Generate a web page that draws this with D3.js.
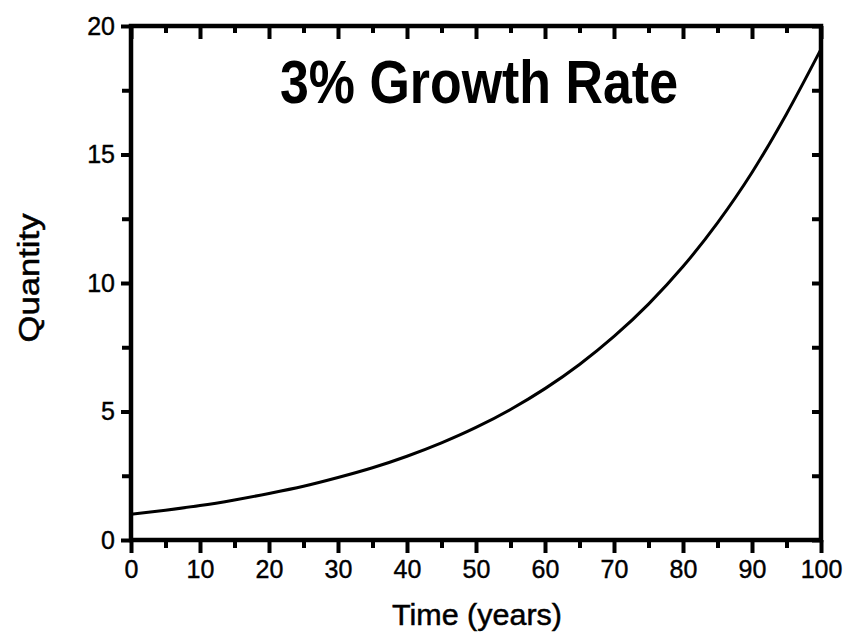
<!DOCTYPE html>
<html>
<head>
<meta charset="utf-8">
<script src="https://cdn.jsdelivr.net/npm/d3@7"></script>
<style>
  html, body { margin: 0; padding: 0; background: #fff; }
  svg { display: block; }
  text { font-family: "Liberation Sans", Arial, Helvetica, sans-serif; fill: #000; }
</style>
</head>
<body>
<svg id="chart" width="850" height="641"></svg>
<script>
// ---- data ----
const years = [0, 5, 10, 15, 20, 25, 30, 35, 40, 45, 50, 55, 60, 65, 70, 75, 80, 85, 90, 95, 100];
const quantity = [1.00, 1.16, 1.34, 1.56, 1.81, 2.09, 2.43, 2.81, 3.26, 3.78, 4.38, 5.08, 5.89, 6.83, 7.92, 9.18, 10.64, 12.34, 14.30, 16.58, 19.1];
const xMajorTicks = [0, 10, 20, 30, 40, 50, 60, 70, 80, 90, 100];
const xMinorTicks = [5, 15, 25, 35, 45, 55, 65, 75, 85, 95];
const yMajorTicks = [0, 5, 10, 15, 20];
const yMinorTicks = [2.5, 7.5, 12.5, 17.5];
const titleText = "3% Growth Rate";
const xLabel = "Time (years)";
const yLabel = "Quantity";

(function () {
  // ---- layout ----
  const pL = 131, pR = 821, pT = 26, pB = 540;
  const svg = d3.select("#chart");

  const x = d3.scaleLinear().domain([0, 100]).range([pL, pR]);
  const y = d3.scaleLinear().domain([0, 20]).range([pB, pT]);

  function styleAxis(g) {
    g.select(".domain").remove();
    g.selectAll(".tick line").attr("stroke", "#000").attr("stroke-width", 4);
    g.selectAll(".tick text")
      .style("font-family", '"Liberation Sans", Arial, sans-serif')
      .style("font-size", "25px")
      .attr("fill", "#000")
      .attr("stroke", "#000").attr("stroke-width", 0.4);
  }

  // bottom axis (outward ticks with labels)
  svg.append("g").attr("transform", `translate(0,${pB})`)
    .call(d3.axisBottom(x).tickValues(xMinorTicks).tickSize(8).tickFormat(""))
    .call(styleAxis);
  svg.append("g").attr("transform", `translate(0,${pB})`)
    .call(d3.axisBottom(x).tickValues(xMajorTicks).tickSize(13).tickPadding(7).tickFormat(d3.format("d")))
    .call(styleAxis);

  // top frame (inward ticks)
  svg.append("g").attr("transform", `translate(0,${pT})`)
    .call(d3.axisBottom(x).tickValues(xMinorTicks).tickSize(7).tickFormat(""))
    .call(styleAxis);
  svg.append("g").attr("transform", `translate(0,${pT})`)
    .call(d3.axisBottom(x).tickValues(xMajorTicks).tickSize(13).tickFormat(""))
    .call(styleAxis);

  // left axis (outward ticks with labels)
  svg.append("g").attr("transform", `translate(${pL},0)`)
    .call(d3.axisLeft(y).tickValues(yMinorTicks).tickSize(9).tickFormat(""))
    .call(styleAxis);
  svg.append("g").attr("transform", `translate(${pL},0)`)
    .call(d3.axisLeft(y).tickValues(yMajorTicks).tickSize(10).tickPadding(6).tickFormat(d3.format("d")))
    .call(styleAxis);

  // right frame (inward ticks)
  svg.append("g").attr("transform", `translate(${pR},0)`)
    .call(d3.axisLeft(y).tickValues(yMinorTicks.concat(yMajorTicks)).tickSize(9).tickFormat(""))
    .call(styleAxis);

  // frame
  svg.append("rect")
    .attr("x", pL).attr("y", pT)
    .attr("width", pR - pL).attr("height", pB - pT)
    .attr("fill", "none").attr("stroke", "#000").attr("stroke-width", 4.5);

  // curve
  const pts = years.map((t, i) => [t, quantity[i]]);
  svg.append("path")
    .datum(pts)
    .attr("fill", "none")
    .attr("stroke", "#000")
    .attr("stroke-width", 3)
    .attr("d", d3.line().x(d => x(d[0])).y(d => y(d[1])).curve(d3.curveMonotoneX));

  // title
  svg.append("text")
    .attr("x", 280).attr("y", 103)
    .attr("textLength", 398).attr("lengthAdjust", "spacingAndGlyphs")
    .style("font-size", "62px").style("font-weight", "bold")
    .text(titleText);

  // x label
  svg.append("text")
    .attr("x", 477).attr("y", 625)
    .attr("text-anchor", "middle")
    .attr("textLength", 170).attr("lengthAdjust", "spacingAndGlyphs")
    .attr("stroke", "#000").attr("stroke-width", 0.5)
    .style("font-size", "30px")
    .text(xLabel);

  // y label
  svg.append("text")
    .attr("transform", "translate(39,278) rotate(-90)")
    .attr("text-anchor", "middle")
    .attr("textLength", 129).attr("lengthAdjust", "spacingAndGlyphs")
    .attr("stroke", "#000").attr("stroke-width", 0.5)
    .style("font-size", "29px")
    .text(yLabel);
})();
</script>
</body>
</html>
